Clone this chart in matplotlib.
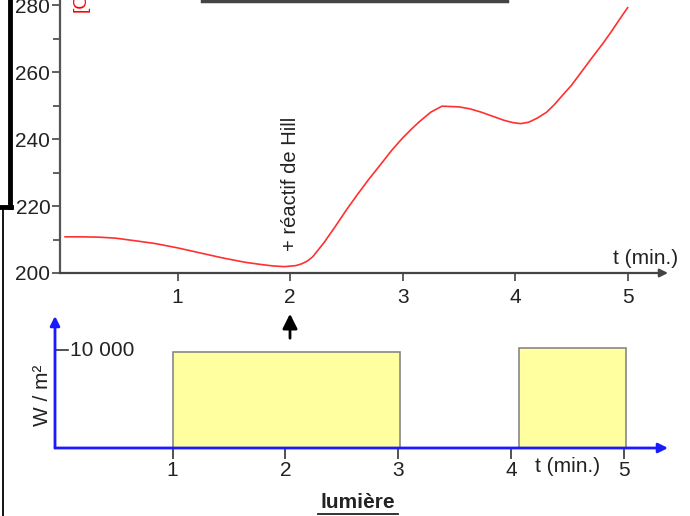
import matplotlib
matplotlib.use("Agg")
import matplotlib.pyplot as plt
from matplotlib.lines import Line2D
import matplotlib.transforms as mtransforms

plt.rcParams['font.family'] = ['Liberation Sans', 'DejaVu Sans']

t_curve = [0, 0.15, 0.3, 0.45, 0.65, 0.8, 1.0, 1.2, 1.4, 1.6, 1.75, 1.85, 1.95,
           2.05, 2.1, 2.15, 2.2, 2.3, 2.4, 2.5, 2.6, 2.7, 2.8, 2.9, 3.0, 3.08,
           3.15, 3.25, 3.35, 3.5, 3.6, 3.7, 3.8, 3.9, 3.98, 4.05, 4.12, 4.2,
           4.28, 4.35, 4.42, 4.5, 4.6, 4.7, 4.78, 4.85, 4.92, 5.0]
v_curve = [210.8, 210.8, 210.7, 210.4, 209.5, 208.8, 207.5, 206.0, 204.5,
           203.2, 202.5, 202.1, 201.9, 202.2, 202.7, 203.5, 204.8, 209.0,
           213.8, 218.8, 223.5, 228.0, 232.2, 236.5, 240.3, 243.0, 245.2,
           248.0, 249.8, 249.6, 249.0, 248.0, 246.8, 245.6, 244.9, 244.6,
           245.0, 246.3, 248.0, 250.3, 253.0, 256.0, 260.5, 265.0, 268.5,
           271.8, 275.3, 279.2]
top_yticks = [200, 220, 240, 260, 280]
top_xticks = [1, 2, 3, 4, 5]

# lumiere (bas) : debut, largeur, intensite
light_start = [1.0, 4.07]
light_width = [2.02, 0.95]
light_level = [9800, 10200]
bot_xticks = [1, 2, 3, 4, 5]

txt = '#222222'
W, H = 690, 516
fig = plt.figure(figsize=(6.9, 5.16), dpi=100)

# ---- graphe du haut
ax1 = fig.add_axes([60 / W, 1 - 273 / H, (668 - 60) / W, 273 / H])
ax1.plot(t_curve, v_curve, color='#ff3030', lw=1.2)
ax1.set_xlim((60 - 65.1) / 112.5, (668 - 65.1) / 112.5)
ax1.set_ylim(200, 281.5)
for s in ['top', 'right', 'bottom']:
    ax1.spines[s].set_visible(False)
ax1.spines['left'].set_color('#555555')
ax1.spines['left'].set_linewidth(1.6)
ax1.set_yticks(top_yticks)
ax1.set_yticks(range(210, 281, 20), minor=True)
ax1.set_xticks(top_xticks)
ax1.tick_params(axis='y', which='major', length=6, width=1.2, color='#444444',
                labelsize=15, labelcolor=txt, pad=1)
ax1.tick_params(axis='y', which='minor', length=5, width=1.2, color='#444444')
ax1.tick_params(axis='x', length=6, width=1.2, color='#444444',
                labelsize=15, labelcolor=txt, pad=5)
ax1.annotate('', xy=(1.0, 0), xytext=(0, 0), xycoords='axes fraction',
             arrowprops=dict(arrowstyle='-|>', color='#444444', lw=1.6,
                             mutation_scale=12, shrinkA=0, shrinkB=0))
ax1.text(2.0, 206.5, '+ réactif de Hill', rotation=90, ha='center', va='bottom',
         fontsize=14.5, color=txt)
fig.text(646 / W, 1 - 258 / H, 't (min.)', ha='center', va='center',
         fontsize=15, color=txt)
fig.text(81 / W, 1 - 12 / H, '[O', rotation=90, ha='center', va='bottom',
         fontsize=14, color='red')

# ---- graphe du bas
ax2 = fig.add_axes([55 / W, 1 - 448 / H, (668 - 55) / W, (448 - 316) / H])
ax2.bar(light_start, light_level, width=light_width, align='edge',
        color='#ffff9f', edgecolor='#888888', linewidth=1.2, zorder=2)
ax2.set_xlim((55 - 59.8) / 112.8, (668 - 59.8) / 112.8)
ax2.set_ylim(0, (448 - 316) / 98 * 10000)
for s in ax2.spines.values():
    s.set_visible(False)
ax2.annotate('', xy=(1.0, 0), xytext=(0, 0), xycoords='axes fraction',
             arrowprops=dict(arrowstyle='-|>', color='#1a1aff', lw=2,
                             mutation_scale=14, shrinkA=0, shrinkB=0), zorder=3)
ax2.annotate('', xy=(0, 1.0), xytext=(0, 0), xycoords='axes fraction',
             arrowprops=dict(arrowstyle='-|>', color='#1a1aff', lw=2,
                             mutation_scale=14, shrinkA=0, shrinkB=0), zorder=3)
ax2.set_yticks([])
ax2.set_xticks(bot_xticks)
ax2.tick_params(axis='x', length=8, width=1.2, color='#333333',
                labelsize=15, labelcolor=txt, pad=1)
trans = mtransforms.blended_transform_factory(ax2.transAxes, ax2.transData)
ax2.add_line(Line2D([0, 0.022], [10000, 10000], transform=trans,
                    color='#333333', lw=1.2, clip_on=False))
ax2.text(0.024, 10000, '10 000', transform=trans, ha='left', va='center',
         fontsize=15, color=txt)
fig.text(42 / W, 1 - 395 / H, 'W / m²', rotation=90, ha='center', va='center',
         fontsize=15, color=txt)
fig.text(568 / W, 1 - 467 / H, 't (min.)', ha='center', va='center',
         fontsize=15, color=txt)
fig.text(358 / W, 1 - 503 / H, 'lumière', ha='center', va='center',
         fontsize=15, fontweight='bold', color=txt)
fig.add_artist(Line2D([318 / W, 398 / W], [1 - 514 / H, 1 - 514 / H],
                      color=txt, lw=1.3))

# fleche noire sous "2"
fig.add_artist(matplotlib.patches.FancyArrowPatch(
    (290 / W, 1 - 341 / H), (290 / W, 1 - 311 / H), transform=fig.transFigure,
    arrowstyle='-|>', mutation_scale=22, color='black', lw=2))

# traits du cadre
fig.add_artist(Line2D([10 / W, 10 / W], [1.0, 1 - 207 / H], color='black', lw=3.5))
fig.add_artist(Line2D([0, 11 / W], [1 - 207 / H, 1 - 207 / H], color='black', lw=3.5))
fig.add_artist(Line2D([3 / W, 3 / W], [1 - 207 / H, 0], color='black', lw=1.3))
fig.add_artist(Line2D([202 / W, 507 / W], [1 - 1 / H, 1 - 1 / H], color='#444444', lw=2.5))

fig.savefig('out.png', dpi=100)
